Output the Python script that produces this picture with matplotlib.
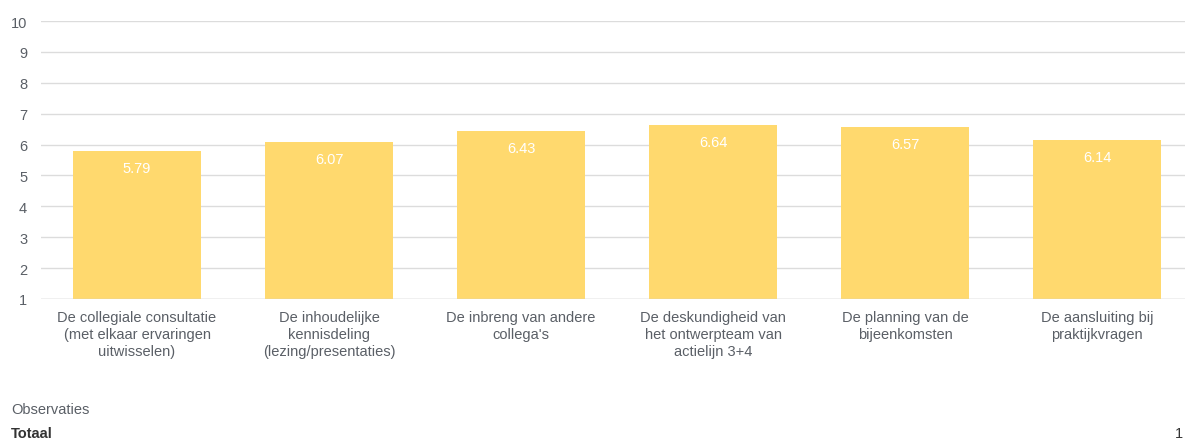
import matplotlib.pyplot as plt
import numpy as np

categories = [
    "De collegiale consultatie\n(met elkaar ervaringen\nuitwisselen)",
    "De inhoudelijke\nkennisdeling\n(lezing/presentaties)",
    "De inbreng van andere\ncollega's",
    "De deskundigheid van\nhet ontwerpteam van\nactielijn 3+4",
    "De planning van de\nbijeenkomsten",
    "De aansluiting bij\npraktijkvragen",
]
values = [5.79, 6.07, 6.43, 6.64, 6.57, 6.14]
yticks = list(range(1, 11))

plt.rcParams['font.family'] = ['Liberation Sans', 'DejaVu Sans']

bar_color = "#FFD96E"
text_color = "#5a5f66"
grid_color = "#dcdcdc"

fig = plt.figure(figsize=(11.85, 4.39), dpi=100)
ax = fig.add_axes([41 / 1185, 1 - 300 / 439, 1 - 41 / 1185, (300 - 22) / 439])

x = np.arange(len(categories))
rects = ax.bar(x, np.array(values) - 1, bottom=1, width=0.667, color=bar_color, zorder=2)
for xi, v in zip(x, values):
    ax.annotate(f"{v:.2f}", (xi, v), xytext=(0, -7), textcoords="offset points",
                ha="center", va="top", color="white", fontsize=10.5)

ax.set_ylim(1, 10)
ax.set_xlim(-0.5, 5.458)
ax.set_yticks(yticks)
ax.set_xticks(x, categories)
ax.yaxis.grid(True, color=grid_color, linewidth=1, zorder=0)
ax.axhline(1, color="#d0d0d0", linewidth=1, zorder=3)
ax.tick_params(axis="y", length=0, pad=10, labelcolor=text_color, labelsize=10.5)
ax.tick_params(axis="x", length=0, pad=8, labelcolor=text_color, labelsize=10.5)
for lbl in ax.get_xticklabels():
    lbl.set_linespacing(1.25)
for s in ax.spines.values():
    s.set_visible(False)

fig.text(11 / 1185, 1 - 410 / 439, "Observaties", color=text_color, fontsize=10.5, va="center")
fig.text(11 / 1185, 1 - 434 / 439, "Totaal", color="#333333", fontsize=10.5,
         fontweight="bold", va="center")
fig.text(1183 / 1185, 1 - 434 / 439, "1", color="#333333", fontsize=10.5, va="center", ha="right")

fig.savefig("out.png", dpi=100)
